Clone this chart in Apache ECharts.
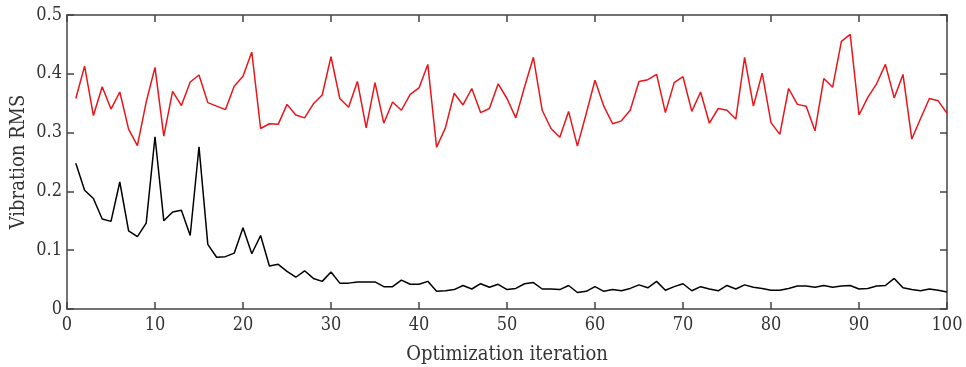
<!DOCTYPE html>
<html><head><meta charset="utf-8">
<script src="https://cdn.jsdelivr.net/npm/echarts@6/dist/echarts.min.js"></script>
<style>html,body{margin:0;padding:0;background:#fff}#c{width:966px;height:367px}</style>
</head><body><div id="c"></div>
<script>
const iterations = Array.from({length:100},(_,i)=>i+1);
const redRMS = [0.358,0.413,0.329,0.378,0.340,0.369,0.306,0.278,0.352,0.411,
0.294,0.370,0.346,0.386,0.398,0.351,0.345,0.339,0.379,0.396,
0.437,0.307,0.315,0.314,0.348,0.330,0.325,0.349,0.364,0.429,
0.358,0.343,0.387,0.308,0.385,0.316,0.352,0.338,0.365,0.376,
0.416,0.275,0.308,0.367,0.347,0.375,0.334,0.341,0.383,0.358,
0.325,0.378,0.428,0.338,0.307,0.292,0.336,0.277,0.332,0.389,
0.345,0.315,0.320,0.338,0.387,0.390,0.399,0.334,0.385,0.395,
0.336,0.369,0.316,0.341,0.338,0.323,0.428,0.345,0.401,0.317,
0.297,0.375,0.348,0.345,0.303,0.392,0.377,0.455,0.467,0.330,
0.360,0.383,0.416,0.359,0.399,0.289,0.324,0.358,0.354,0.333];
const blackRMS = [0.248,0.202,0.188,0.153,0.149,0.216,0.133,0.123,0.146,0.293,
0.150,0.165,0.168,0.125,0.276,0.110,0.088,0.089,0.095,0.138,
0.094,0.125,0.073,0.076,0.064,0.054,0.065,0.052,0.047,0.063,
0.044,0.044,0.046,0.046,0.046,0.038,0.038,0.049,0.042,0.042,
0.047,0.030,0.031,0.033,0.040,0.034,0.043,0.037,0.042,0.033,
0.035,0.043,0.045,0.034,0.034,0.033,0.040,0.028,0.030,0.038,
0.030,0.033,0.031,0.035,0.041,0.036,0.047,0.032,0.038,0.043,
0.031,0.038,0.034,0.031,0.040,0.034,0.041,0.037,0.035,0.032,
0.032,0.035,0.039,0.039,0.037,0.040,0.037,0.039,0.040,0.034,
0.035,0.039,0.040,0.052,0.036,0.033,0.031,0.034,0.032,0.029];
const xTicks = [0,10,20,30,40,50,60,70,80,90,100];
const yTicks = [0,0.1,0.2,0.3,0.4,0.5];

const FONT = '"DejaVu Serif Condensed", "DejaVu Serif", serif';
const axisLineColor = '#444';
const chart = echarts.init(document.getElementById('c'), null, {renderer:'canvas'});
const baseX = {
  type:'value', min:xTicks[0], max:xTicks[xTicks.length-1], interval:10,
  axisLine:{show:true,onZero:false,lineStyle:{color:axisLineColor,width:1.5}},
  axisTick:{show:true,inside:true,length:7,lineStyle:{color:axisLineColor,width:1.5}},
  splitLine:{show:false}
};
const baseY = {
  type:'value', min:yTicks[0], max:yTicks[yTicks.length-1], interval:0.1,
  axisLine:{show:true,onZero:false,lineStyle:{color:axisLineColor,width:1.5}},
  axisTick:{show:true,inside:true,length:7,lineStyle:{color:axisLineColor,width:1.5}},
  splitLine:{show:false}
};
chart.setOption({
  animation:false,
  grid:{left:67,right:19,top:15,bottom:58,containLabel:false,outerBoundsMode:'none'},
  xAxis:[
    Object.assign({}, baseX, {position:'bottom',
      name:'Optimization iteration', nameLocation:'middle', nameGap:36,
      nameTextStyle:{fontFamily:FONT,fontSize:20,color:'#333'},
      axisLabel:{fontFamily:FONT,fontSize:18,color:'#333',margin:7}}),
    Object.assign({}, baseX, {position:'top', axisLabel:{show:false}})
  ],
  yAxis:[
    Object.assign({}, baseY, {position:'left',
      name:'Vibration RMS', nameLocation:'middle', nameGap:38, nameMoveOverlap:false,
      nameTextStyle:{fontFamily:FONT,fontSize:20,color:'#333'},
      axisLabel:{fontFamily:FONT,fontSize:18,color:'#333',margin:5,
        formatter:v=> v===0 ? '0' : v.toFixed(1)}}),
    Object.assign({}, baseY, {position:'right', axisLabel:{show:false}})
  ],
  series:[
    {type:'line', data:iterations.map((x,i)=>[x,redRMS[i]]), showSymbol:false,
     lineStyle:{color:'#e8161b',width:1.5}, xAxisIndex:0, yAxisIndex:0},
    {type:'line', data:iterations.map((x,i)=>[x,blackRMS[i]]), showSymbol:false,
     lineStyle:{color:'#000',width:1.5}, xAxisIndex:0, yAxisIndex:0}
  ]
});
</script></body></html>
